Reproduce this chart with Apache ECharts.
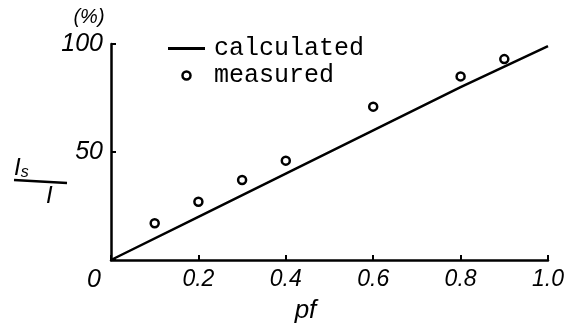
<!DOCTYPE html>
<html>
<head>
<meta charset="utf-8">
<script src="https://cdn.jsdelivr.net/npm/echarts@6/dist/echarts.min.js"></script>
<style>
  html, body { margin: 0; padding: 0; background: #fff; }
  #chart { width: 573px; height: 329px; }
</style>
</head>
<body>
<div id="chart"></div>
<script>
// measured points
var pfMeasured = [0.1, 0.2, 0.3, 0.4, 0.6, 0.8, 0.9]
var ratioMeasured = [17, 27, 37, 46, 71, 85, 93]
// calculated curve
var pfCalc = [0, 0.2, 0.4, 0.6, 0.8, 1.0]
var ratioCalc = [0, 20, 40, 60, 80, 99]
var xTickLabels = ['0', '0.2', '0.4', '0.6', '0.8', '1.0']
var yTickLabels = ['', '50', '100']

var ink = '#000'
var handFont = '"Liberation Sans", "DejaVu Sans", sans-serif'

var chart = echarts.init(document.getElementById('chart'))
chart.setOption({
  animation: false,
  backgroundColor: '#fff',
  grid: { left: 111, right: 25, top: 44, bottom: 64 },
  legend: {
    orient: 'vertical',
    left: 163,
    top: 31,
    itemWidth: 37,
    itemHeight: 8,
    itemGap: 2,
    symbolKeepAspect: true,
    textStyle: { fontFamily: '"Liberation Mono", monospace', fontSize: 25, color: ink, padding: [0, 0, 0, 4] },
    data: [
      { name: 'calculated', icon: 'path://M0,0H37V3H0Z' },
      { name: 'measured', icon: 'circle', itemStyle: { color: '#fff', borderColor: ink, borderWidth: 2.5 } }
    ]
  },
  xAxis: {
    type: 'value',
    min: 0, max: 1, interval: 0.2,
    name: 'pf',
    nameLocation: 'middle',
    nameGap: 38,
    nameTextStyle: { fontFamily: handFont, fontStyle: 'italic', fontSize: 26, color: ink, padding: [0, 48, 0, 0] },
    axisLine: { lineStyle: { color: ink, width: 2.5 } },
    axisTick: { inside: true, length: 5, lineStyle: { color: ink, width: 2 } },
    splitLine: { show: false },
    axisLabel: {
      margin: 8,
      fontFamily: handFont, fontStyle: 'italic', fontSize: 23, color: ink,
      formatter: function (v) {
        var i = Math.round(v / 0.2)
        return i === 0 ? '{z|' + xTickLabels[0] + '}' : xTickLabels[i]
      },
      rich: { z: { fontFamily: handFont, fontStyle: 'italic', fontSize: 25, color: ink, padding: [0, 34, 0, 0] } }
    }
  },
  yAxis: {
    type: 'value',
    min: 0, max: 100, interval: 50,
    name: '(%)',
    nameLocation: 'end',
    nameGap: 17,
    nameTextStyle: { fontFamily: handFont, fontStyle: 'italic', fontSize: 20, color: ink, align: 'center', padding: [0, 44, 0, 0] },
    axisLine: { lineStyle: { color: ink, width: 2.5 } },
    axisTick: { inside: true, length: 5, lineStyle: { color: ink, width: 2 } },
    splitLine: { show: false },
    axisLabel: {
      margin: 8,
      fontFamily: handFont, fontStyle: 'italic', fontSize: 25, color: ink,
      formatter: function (v) { return yTickLabels[Math.round(v / 50)] }
    }
  },
  graphic: [
    {
      type: 'text', left: 14, top: 156,
      style: {
        text: '{i|I}{s|s}',
        rich: {
          i: { fontFamily: handFont, fontStyle: 'italic', fontSize: 24, fill: ink },
          s: { fontFamily: handFont, fontStyle: 'italic', fontSize: 16, fill: ink, padding: [10, 0, 0, 0] }
        }
      }
    },
    { type: 'line', shape: { x1: 14, y1: 180, x2: 67, y2: 183 }, style: { stroke: ink, lineWidth: 2.5 } },
    {
      type: 'text', left: 46, top: 184,
      style: { text: 'I', fontFamily: handFont, fontStyle: 'italic', fontSize: 24, fill: ink }
    }
  ],
  series: [
    {
      name: 'calculated',
      type: 'line',
      symbol: 'none',
      lineStyle: { color: ink, width: 2.5 },
      itemStyle: { color: ink },
      data: pfCalc.map(function (x, i) { return [x, ratioCalc[i]] })
    },
    {
      name: 'measured',
      type: 'scatter',
      symbol: 'circle',
      symbolSize: 8,
      itemStyle: { color: '#fff', borderColor: ink, borderWidth: 2.5, opacity: 1 },
      data: pfMeasured.map(function (x, i) { return [x, ratioMeasured[i]] })
    }
  ]
})
</script>
</body>
</html>
